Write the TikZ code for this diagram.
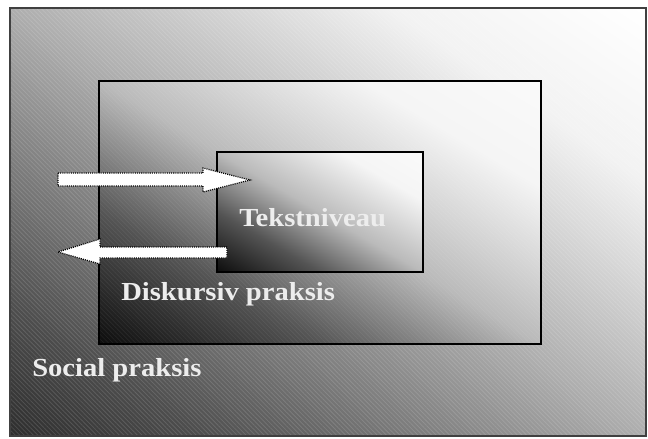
\documentclass[tikz,border=0pt]{standalone}
\usepackage{fontspec}
\setmainfont{Liberation Serif}
\newfontfamily\labelfont{Liberation Serif}[FakeStretch=1.10]
\usetikzlibrary{patterns.meta}

% diagonal grey ramps, drawn on a square at 45 degrees: corners sit at 14.6bp (lower left) and 85.4bp (upper right)
\pgfdeclarehorizontalshading{outerramp}{100bp}{color(0bp)=(black!84); color(14.6bp)=(black!82);
  color(25bp)=(black!70); color(50bp)=(black!32); color(71.2bp)=(black!5); color(85.4bp)=(white); color(100bp)=(white)}
\pgfdeclarehorizontalshading{innerramp}{100bp}{color(0bp)=(black!96); color(14.6bp)=(black!95);
  color(32.3bp)=(black!67); color(50bp)=(black!27); color(71.2bp)=(black!4); color(85.4bp)=(white!98!black); color(100bp)=(white)}

\tikzset{
  frame/.style={line width=1.5pt, draw=black},
  hatch/.style={pattern={Lines[angle=-45,distance=2.4pt,line width=0.6pt]}, pattern color=white, opacity=0.13},
  blockarrow/.style={fill=white, draw=black, line width=0.9pt, dash pattern=on 0.8pt off 0.8pt},
  label/.style={text=white!93!black, font=\labelfont\fontsize{19.5}{22}\selectfont\bfseries, anchor=base west, inner sep=0pt}
}

\begin{document}
\begin{tikzpicture}[x=0.75pt,y=-0.75pt]
  \useasboundingbox (0,0) rectangle (648,438);
  \fill[white] (0,0) rectangle (648,438);

  % social practice: outer frame (636 x 428, centre 328,222)
  \begin{scope}[transform canvas={shift={(328,222)}, xscale=1.4860}]
    \shade[shading=outerramp, shading angle=45] (-214,-214) rectangle (214,214);
  \end{scope}
  \fill[hatch] (10,8) rectangle (646,436);
  \draw[line width=1.5pt, draw=black!75] (10,8) rectangle (646,436);

  % discursive practice: middle frame (442 x 263, centre 320,212.5)
  \begin{scope}[transform canvas={shift={(320,212.5)}, xscale=1.6806}]
    \shade[shading=innerramp, shading angle=45] (-131.5,-131.5) rectangle (131.5,131.5);
  \end{scope}
  \fill[hatch, opacity=0.06] (99,81) rectangle (541,344);
  \draw[frame] (99,81) rectangle (541,344);

  % text level: inner frame (206 x 120, centre 320,212)
  \begin{scope}[transform canvas={shift={(320,212)}, xscale=1.7167}]
    \shade[shading=innerramp, shading angle=45] (-60,-60) rectangle (60,60);
  \end{scope}
  \draw[frame] (217,152) rectangle (423,272);

  % block arrows between the levels
  \coordinate (r0) at (58,179);
  \coordinate (r1) at (250,180);
  \draw[blockarrow] (r0) ++(0,-6) -- (203,173) -- (203,168) -- (r1) -- (203,192) -- (203,186) -- (58,186) -- cycle;
  \coordinate (l0) at (227,252);
  \coordinate (l1) at (58,252);
  \draw[blockarrow] (l0) ++(0,-5) -- (100,247) -- (100,239) -- (l1) -- (100,264) -- (100,258) -- (227,258) -- cycle;

  % labels
  \node[label] (tekst) at (239,226) {Tekstniveau};
  \node[label] (disk) at (121,300) {Diskursiv praksis};
  \node[label] (social) at (32,376) {Social praksis};
\end{tikzpicture}
\end{document}
